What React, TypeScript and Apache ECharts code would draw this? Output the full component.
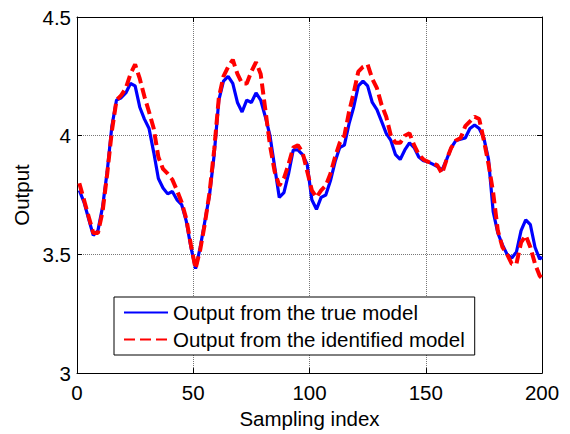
import React, { useEffect, useRef } from "react";
import * as echarts from "echarts";

const sampleIndex = [
  1, 3, 5, 7, 9, 11, 13, 15, 17, 19, 21, 23, 25, 27, 29, 31, 33, 35, 37, 39,
  41, 43, 45, 47, 49, 51, 53, 55, 57, 59, 61, 63, 65, 67, 69, 71, 73, 75, 77, 79,
  81, 83, 85, 87, 89, 91, 93, 95, 97, 99, 101, 103, 105, 107, 109, 111, 113, 115, 117, 119,
  121, 123, 125, 127, 129, 131, 133, 135, 137, 139, 141, 143, 145, 147, 149, 151, 153, 155, 157, 159,
  161, 163, 165, 167, 169, 171, 173, 175, 177, 179, 181, 183, 185, 187, 189, 191, 193, 195, 197, 199,
  200,
];

const trueOutput = [
  3.77, 3.72, 3.65, 3.58, 3.6, 3.7, 3.85, 4.04, 4.15, 4.16, 4.18, 4.22, 4.21, 4.12, 4.07, 4.03, 3.93, 3.82, 3.78, 3.755,
  3.765, 3.73, 3.71, 3.64, 3.53, 3.44, 3.53, 3.64, 3.75, 3.92, 4.15, 4.23, 4.25, 4.22, 4.14, 4.1, 4.15, 4.14, 4.18, 4.15,
  4.08, 4.0, 3.87, 3.74, 3.76, 3.84, 3.94, 3.94, 3.92, 3.88, 3.73, 3.69, 3.74, 3.75, 3.81, 3.89, 3.95, 3.96, 4.05, 4.12,
  4.21, 4.23, 4.21, 4.14, 4.11, 4.06, 4.01, 3.98, 3.92, 3.9, 3.94, 3.97, 3.95, 3.91, 3.895, 3.89, 3.88, 3.87, 3.855, 3.9,
  3.95, 3.98, 3.985, 3.99, 4.03, 4.045, 4.03, 3.99, 3.9, 3.68, 3.59, 3.54, 3.5, 3.485, 3.51, 3.6, 3.645, 3.625, 3.53, 3.48,
  3.49,
];

const identifiedOutput = [
  3.8, 3.73, 3.66, 3.59, 3.59, 3.68, 3.84, 4.02, 4.15, 4.17, 4.2, 4.26, 4.3, 4.24, 4.165, 4.1, 4.03, 3.91, 3.86, 3.84,
  3.815, 3.77, 3.72, 3.65, 3.54, 3.44, 3.52, 3.63, 3.76, 3.94, 4.16, 4.25, 4.29, 4.32, 4.26, 4.22, 4.22, 4.27, 4.31, 4.26,
  4.11, 3.96, 3.85, 3.79, 3.82, 3.88, 3.95, 3.96, 3.93, 3.85, 3.77, 3.74, 3.77, 3.79, 3.84, 3.91, 3.97, 4.0, 4.1, 4.18,
  4.27, 4.29, 4.3, 4.24, 4.2, 4.13, 4.08, 4.0, 3.97, 3.97, 4.0, 4.01, 3.96, 3.92, 3.9, 3.89, 3.885, 3.875, 3.84, 3.9,
  3.95, 3.98, 3.99, 4.04, 4.06, 4.08, 4.07, 3.98, 3.88, 3.76, 3.6, 3.53, 3.5, 3.46, 3.46, 3.55, 3.58, 3.53, 3.46, 3.41,
  3.4,
];

const seriesNames = ["Output from the true model", "Output from the identified model"];

export default function App() {
  const ref = useRef<HTMLDivElement>(null);

  useEffect(() => {
    if (!ref.current) return;
    const chart = echarts.init(ref.current, undefined, { renderer: "svg" });
    const font = "Arial, 'Liberation Sans', sans-serif";
    const fs = 20.5;
    const gridLine = { show: true, lineStyle: { color: "#777", type: "dotted" as const, width: 1 } };
    chart.setOption({
      animation: false,
      backgroundColor: "#fff",
      grid: { left: 77, right: 28, top: 17, bottom: 52, containLabel: false },
      legend: {
        data: seriesNames,
        orient: "vertical",
        left: 114,
        top: 297,
        itemWidth: 44,
        itemHeight: 14,
        itemGap: 6,
        padding: [5, 10, 5, 9],
        borderColor: "#000",
        borderWidth: 1,
        backgroundColor: "#fff",
        borderRadius: 0,
        itemStyle: { opacity: 0 },
        textStyle: { fontFamily: font, fontSize: fs, color: "#000" },
      },
      xAxis: [
        {
          type: "value",
          min: 0,
          max: 200,
          interval: 50,
          name: "Sampling index",
          nameLocation: "middle",
          nameGap: 26,
          nameTextStyle: { fontFamily: font, fontSize: fs, color: "#000" },
          axisLine: { show: true, onZero: false, lineStyle: { color: "#000", width: 1 } },
          axisTick: { show: true, inside: true, length: 5, lineStyle: { color: "#000" } },
          axisLabel: { fontFamily: font, fontSize: fs, color: "#000", margin: 9 },
          splitLine: gridLine,
        },
        {
          type: "value",
          position: "top",
          min: 0,
          max: 200,
          interval: 50,
          axisLine: { show: true, onZero: false, lineStyle: { color: "#000", width: 1 } },
          axisTick: { show: true, inside: true, length: 5, lineStyle: { color: "#000" } },
          axisLabel: { show: false },
          splitLine: { show: false },
        },
      ],
      yAxis: [
        {
          type: "value",
          min: 3,
          max: 4.5,
          interval: 0.5,
          name: "Output",
          nameLocation: "middle",
          nameGap: 43,
          nameTextStyle: { fontFamily: font, fontSize: fs, color: "#000" },
          axisLine: { show: true, onZero: false, lineStyle: { color: "#000", width: 1 } },
          axisTick: { show: true, inside: true, length: 5, lineStyle: { color: "#000" } },
          axisLabel: { fontFamily: font, fontSize: fs, color: "#000", margin: 6 },
          splitLine: gridLine,
        },
        {
          type: "value",
          position: "right",
          min: 3,
          max: 4.5,
          interval: 0.5,
          axisLine: { show: true, onZero: false, lineStyle: { color: "#000", width: 1 } },
          axisTick: { show: true, inside: true, length: 5, lineStyle: { color: "#000" } },
          axisLabel: { show: false },
          splitLine: { show: false },
        },
      ],
      series: [
        {
          name: seriesNames[0],
          type: "line",
          data: sampleIndex.map((x, i) => [x, trueOutput[i]]),
          showSymbol: false,
          symbol: "none",
          smooth: false,
          lineStyle: { color: "#0000ff", width: 3.2 },
          itemStyle: { color: "#0000ff" },
          z: 2,
        },
        {
          name: seriesNames[1],
          type: "line",
          data: sampleIndex.map((x, i) => [x, identifiedOutput[i]]),
          showSymbol: false,
          symbol: "none",
          smooth: false,
          lineStyle: { color: "#ff0000", width: 4, type: [11, 5] },
          itemStyle: { color: "#ff0000" },
          z: 3,
        },
      ],
    });
    return () => chart.dispose();
  }, []);

  return (
    <div
      ref={ref}
      style={{ position: "absolute", left: 0, top: 0, width: 570, height: 434 }}
    />
  );
}
